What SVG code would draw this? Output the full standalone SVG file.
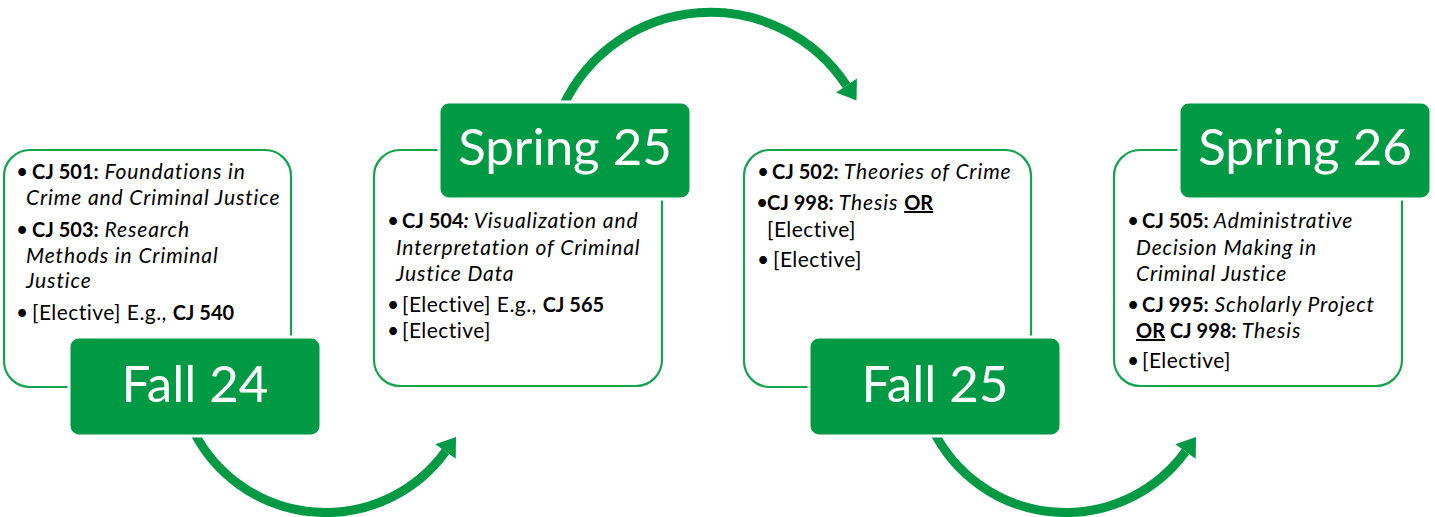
<svg xmlns="http://www.w3.org/2000/svg" width="1435" height="517" viewBox="0 0 1435 517">
<defs>
<style>
.card{fill:#ffffff;stroke:#13A24F;stroke-width:2.2}
.tag{fill:#009A44;stroke:#ffffff;stroke-width:3}
.tagt{font-family:Lato,"Open Sans","Liberation Sans",sans-serif;font-size:51px;fill:#ffffff;text-anchor:middle}
.t{font-family:Lato,"Open Sans","Liberation Sans",sans-serif;font-size:21px;letter-spacing:0.45px;fill:#000000}
.i{font-style:italic;letter-spacing:0.9px}
.b{font-weight:bold;font-size:20px;letter-spacing:0px}
.u{text-decoration:underline}
.arc{fill:none;stroke:#009A44;stroke-width:9}
.head{fill:#009A44}
</style>
</defs>
<g id="connectors">
<path class="arc" d="M 194,432 A 148 148 0 0 0 445.5,451.5"/>
<polygon class="head" points="456,437 455.7,458.8 435.3,444.2"/>
<path class="arc" d="M 563,106 A 163 163 0 0 1 846.5,85.5"/>
<polygon class="head" points="856.5,100.5 856.9,78.5 836.1,92.5"/>
<path class="arc" d="M 934,432 A 148 148 0 0 0 1185.5,451.5"/>
<polygon class="head" points="1196,437 1195.7,458.8 1175.3,444.2"/>
</g>
<g id="fall24">
<rect class="card" x="4" y="150" width="287" height="237" rx="26"/>
<text class="t" y="179"><tspan x="16">•</tspan><tspan class="b" x="32">CJ 501:</tspan><tspan class="i"> Foundations in</tspan></text>
<text class="t i" x="26" y="205">Crime and Criminal Justice</text>
<text class="t" y="237"><tspan x="16">•</tspan><tspan class="b" x="32">CJ 503:</tspan><tspan class="i"> Research</tspan></text>
<text class="t i" x="26" y="263">Methods in Criminal</text>
<text class="t i" x="26" y="288">Justice</text>
<text class="t" y="320"><tspan x="16">•</tspan><tspan x="32">[Elective] E.g., </tspan><tspan class="b">CJ 540</tspan></text>
<rect class="tag" x="69" y="337" width="252" height="99" rx="10"/>
<text class="tagt" x="195" y="402">Fall 24</text>
</g>
<g id="spring25">
<rect class="card" x="374" y="150" width="288" height="236" rx="26"/>
<rect class="tag" x="439" y="102" width="252" height="97" rx="10"/>
<text class="tagt" x="565" y="165">Spring 25</text>
<text class="t" y="228"><tspan x="387">•</tspan><tspan class="b" x="402">CJ 504</tspan><tspan class="b i">:</tspan><tspan class="i"> Visualization and</tspan></text>
<text class="t i" x="396" y="255">Interpretation of Criminal</text>
<text class="t i" x="396" y="281">Justice Data</text>
<text class="t" y="312"><tspan x="387">•</tspan><tspan x="402">[Elective] E.g., </tspan><tspan class="b">CJ 565</tspan></text>
<text class="t" y="338"><tspan x="387">•</tspan><tspan x="402">[Elective]</tspan></text>
</g>
<g id="fall25">
<rect class="card" x="744" y="150" width="287" height="237" rx="26"/>
<text class="t" y="179"><tspan x="757">•</tspan><tspan class="b" x="772">CJ 502:</tspan><tspan class="i"> Theories of Crime</tspan></text>
<text class="t" y="210"><tspan x="756">•</tspan><tspan class="b" x="767">CJ 998:</tspan><tspan class="i"> Thesis</tspan><tspan> </tspan><tspan class="b u">OR</tspan></text>
<text class="t" x="767" y="237">[Elective]</text>
<text class="t" y="267"><tspan x="757">•</tspan><tspan x="773">[Elective]</tspan></text>
<rect class="tag" x="809" y="337" width="252" height="99" rx="10"/>
<text class="tagt" x="935" y="402">Fall 25</text>
</g>
<g id="spring26">
<rect class="card" x="1114" y="150" width="288" height="236" rx="26"/>
<rect class="tag" x="1179" y="102" width="252" height="97" rx="10"/>
<text class="tagt" x="1305" y="165">Spring 26</text>
<text class="t" y="228"><tspan x="1127">•</tspan><tspan class="b" x="1142">CJ 505:</tspan><tspan class="i"> Administrative</tspan></text>
<text class="t i" x="1136" y="255">Decision Making in</text>
<text class="t i" x="1136" y="281">Criminal Justice</text>
<text class="t" y="312"><tspan x="1127">•</tspan><tspan class="b" x="1142">CJ 995:</tspan><tspan class="i"> Scholarly Project</tspan></text>
<text class="t" y="338"><tspan class="b u" x="1136">OR</tspan><tspan class="b"> CJ 998:</tspan><tspan class="i"> Thesis</tspan></text>
<text class="t" y="368"><tspan x="1127">•</tspan><tspan x="1142">[Elective]</tspan></text>
</g>
</svg>
